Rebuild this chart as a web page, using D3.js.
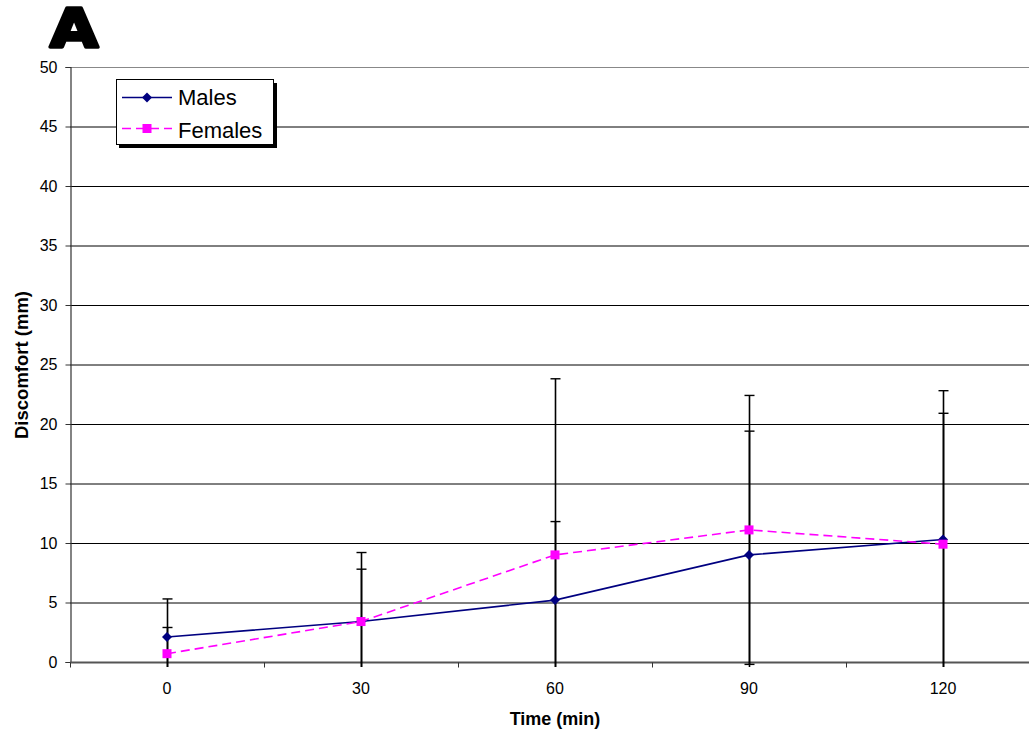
<!DOCTYPE html>
<html>
<head>
<meta charset="utf-8">
<script src="https://cdn.jsdelivr.net/npm/d3@7"></script>
<style>
  html, body { margin: 0; padding: 0; background: #fff; }
  svg { display: block; font-family: "Liberation Sans", Arial, sans-serif; }
</style>
</head>
<body>
<svg id="chart" width="1029" height="734"></svg>
<script>
// Time points (minutes)
const times = ["0", "30", "60", "90", "120"];
// Mean discomfort (mm)
const malesMean   = [2.1, 3.4, 5.2, 9.0, 10.3];
const femalesMean = [0.7, 3.4, 9.0, 11.1, 9.9];
// Standard deviations
const malesSD   = [3.2, 5.8, 6.6, 10.4, 12.5];
const femalesSD = [2.2, 4.4, 14.8, 11.3, 11.0];
// Y axis ticks
const yTicks = [0, 5, 10, 15, 20, 25, 30, 35, 40, 45, 50];

(function () {
const svg = d3.select("#chart");
const plotL = 70, plotR = 1040, plotT = 67, plotB = 662;

const x = d3.scaleBand().domain(times).range([plotL, plotR]).paddingInner(0).paddingOuter(0);
const xc = d => x(d) + x.bandwidth() / 2;
const y = d3.scaleLinear().domain([0, 50]).range([plotB, plotT]);

// Panel letter
svg.append("text")
  .attr("transform", "translate(50,46.5) scale(1.15,1)")
  .attr("font-family", "'DejaVu Sans', sans-serif")
  .attr("font-weight", "bold")
  .attr("font-size", 54)
  .attr("stroke", "#000").attr("stroke-width", 3.5).attr("stroke-linejoin", "round")
  .text("A");

// Horizontal gridlines
svg.append("g").selectAll("line")
  .data(yTicks.filter(t => t > 0))
  .join("line")
  .attr("x1", plotL).attr("x2", plotR)
  .attr("y1", d => y(d) + 0.5).attr("y2", d => y(d) + 0.5)
  .attr("stroke", d => d === 50 ? "#888" : "#000")
  .attr("stroke-width", 1);

// Y axis
const yAxis = svg.append("g")
  .attr("transform", `translate(${plotL + 0.5},0)`)
  .call(d3.axisLeft(y).tickValues(yTicks).tickSize(5).tickPadding(8));
yAxis.select(".domain").attr("stroke", "#333").attr("stroke-width", 1.2);
yAxis.selectAll(".tick line").attr("stroke", "#333");
yAxis.selectAll("text").attr("font-size", 16).attr("font-family", "'Liberation Sans', Arial, sans-serif").attr("fill", "#000");

// X axis (ticks between categories)
const xAxisG = svg.append("g").attr("transform", `translate(0,${plotB + 0.5})`);
xAxisG.append("line").attr("x1", plotL).attr("x2", plotR).attr("stroke", "#555").attr("stroke-width", 2);
xAxisG.selectAll("line.tk")
  .data(times.concat(["end"]))
  .join("line").attr("class", "tk")
  .attr("x1", (d, i) => plotL + i * x.bandwidth() + 0.5)
  .attr("x2", (d, i) => plotL + i * x.bandwidth() + 0.5)
  .attr("y1", 0).attr("y2", 5)
  .attr("stroke", "#333");
xAxisG.selectAll("text")
  .data(times)
  .join("text")
  .attr("x", d => xc(d)).attr("y", 31)
  .attr("text-anchor", "middle")
  .attr("font-size", 16)
  .text(d => d);

// Axis titles
svg.append("text")
  .attr("x", xc("60")).attr("y", 725)
  .attr("text-anchor", "middle")
  .attr("font-weight", "bold").attr("font-size", 18)
  .text("Time (min)");
svg.append("text")
  .attr("transform", `translate(28,365) rotate(-90)`)
  .attr("text-anchor", "middle")
  .attr("font-weight", "bold").attr("font-size", 18.5)
  .text("Discomfort (mm)");

// Error bars, clipped just below the axis
svg.append("defs").append("clipPath").attr("id", "errclip")
  .append("rect").attr("x", 0).attr("y", 0).attr("width", 1029).attr("height", plotB + 5);

const series = [
  { name: "Males", mean: malesMean, sd: malesSD, color: "#000080", dash: null, marker: "diamond" },
  { name: "Females", mean: femalesMean, sd: femalesSD, color: "#FF00FF", dash: "9,5", marker: "square" }
];

const errG = svg.append("g").attr("clip-path", "url(#errclip)");
series.forEach(s => {
  times.forEach((t, i) => {
    const cx = Math.round(xc(t)) + 0.5;
    const hi = y(s.mean[i] + s.sd[i]);
    const lo = y(s.mean[i] - s.sd[i]);
    errG.append("line").attr("x1", cx).attr("x2", cx).attr("y1", hi).attr("y2", lo)
      .attr("stroke", "#000").attr("stroke-width", 1.6);
    [hi, lo].forEach(v => {
      errG.append("line").attr("x1", cx - 5).attr("x2", cx + 5).attr("y1", v).attr("y2", v)
        .attr("stroke", "#000").attr("stroke-width", 1.4);
    });
  });
});

// Lines and markers
const line = d3.line().x((d, i) => xc(times[i])).y(d => y(d));
series.forEach(s => {
  svg.append("path")
    .datum(s.mean)
    .attr("d", line)
    .attr("fill", "none")
    .attr("stroke", s.color)
    .attr("stroke-width", 1.6)
    .attr("stroke-dasharray", s.dash);
});

function drawMarker(g, type, cx, cy, color) {
  if (type === "diamond") {
    g.append("path")
      .attr("d", `M${cx},${cy - 5}L${cx + 5},${cy}L${cx},${cy + 5}L${cx - 5},${cy}Z`)
      .attr("fill", color);
  } else {
    g.append("rect").attr("x", cx - 4.5).attr("y", cy - 4.5).attr("width", 9).attr("height", 9)
      .attr("fill", color);
  }
}
const markG = svg.append("g");
series.forEach(s => {
  s.mean.forEach((v, i) => drawMarker(markG, s.marker, xc(times[i]), y(v), s.color));
});

// Legend with drop shadow
const lg = svg.append("g");
lg.append("rect").attr("x", 119).attr("y", 83).attr("width", 158).attr("height", 65).attr("fill", "#000");
lg.append("rect").attr("x", 116.5).attr("y", 79.5).attr("width", 157).attr("height", 65)
  .attr("fill", "#fff").attr("stroke", "#000").attr("stroke-width", 1);
series.forEach((s, i) => {
  const ly = 97.5 + i * 31;
  lg.append("line").attr("x1", 122).attr("x2", 172).attr("y1", ly).attr("y2", ly)
    .attr("stroke", s.color).attr("stroke-width", 1.6).attr("stroke-dasharray", s.dash);
  drawMarker(lg, s.marker, 147, ly, s.color);
  lg.append("text").attr("x", 178).attr("y", ly + 7 + i * 2).attr("font-size", 22).text(s.name);
});
})();
</script>
</body>
</html>
